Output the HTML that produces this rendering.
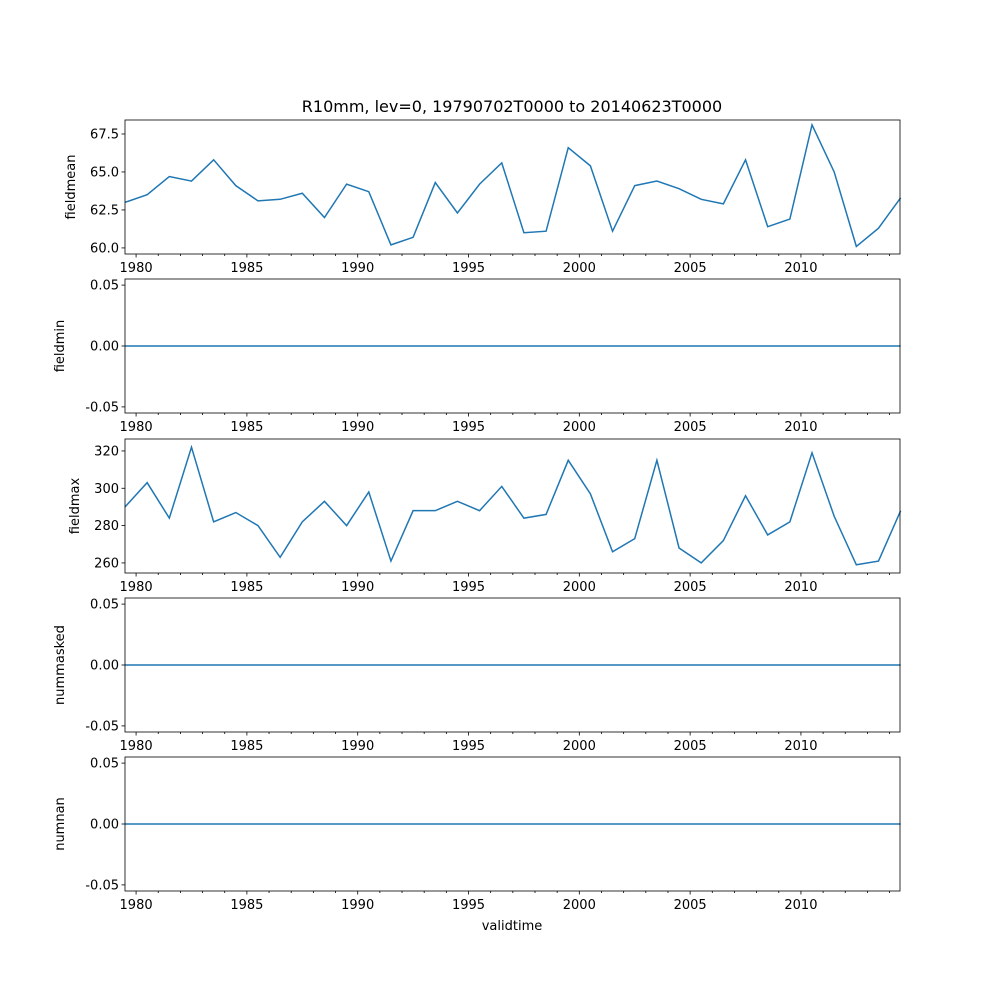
<!DOCTYPE html>
<html><head><meta charset="utf-8"><style>body{margin:0;background:#fff}svg text{font-family:"DejaVu Sans","Liberation Sans",sans-serif}</style></head>
<body>
<svg id="fig" width="1000" height="1000" xmlns="http://www.w3.org/2000/svg"></svg>
<script>
const years = [1979,1980,1981,1982,1983,1984,1985,1986,1987,1988,1989,1990,1991,1992,1993,1994,1995,1996,1997,1998,1999,2000,2001,2002,2003,2004,2005,2006,2007,2008,2009,2010,2011,2012,2013,2014];
const fieldmean = [63.0,63.5,64.7,64.4,65.8,64.1,63.1,63.2,63.6,62.0,64.2,63.7,60.2,60.7,64.3,62.3,64.2,65.6,61.0,61.1,66.6,65.4,61.1,64.1,64.4,63.9,63.2,62.9,65.8,61.4,61.9,68.1,65.0,60.1,61.3,63.3];
const fieldmax = [290,303,284,322,282,287,280,263,282,293,280,298,261,288,288,293,288,301,284,286,315,297,266,273,315,268,260,272,296,275,282,319,285,259,261,288];
const zeros = years.map(()=>0);
const meanTicks = [60.0,62.5,65.0,67.5];
const maxTicks = [260,280,300,320];
const zeroTicks = [-0.05,0.00,0.05];
const xTickYears = [1980,1985,1990,1995,2000,2005,2010];

const svg=document.getElementById('fig');const NS='http://www.w3.org/2000/svg';
function mk(t,a,p){const e=document.createElementNS(NS,t);for(const k in a)e.setAttribute(k,a[k]);(p||svg).appendChild(e);return e;}
const L=125,R=900,x0=1979.5,x1=2014.47;
const xs=v=>L+(v-x0)/(x1-x0)*(R-L);
const panels=[
 {name:'fieldmean',top:120,bot:254,lo:59.6,hi:68.42,data:fieldmean,ticks:meanTicks,fmt:v=>v.toFixed(1)},
 {name:'fieldmin',top:279,bot:413,lo:-0.055,hi:0.055,data:zeros,ticks:zeroTicks,fmt:v=>v.toFixed(2)},
 {name:'fieldmax',top:439,bot:573,lo:254.6,hi:326.4,data:fieldmax,ticks:maxTicks,fmt:v=>String(v)},
 {name:'nummasked',top:598,bot:732,lo:-0.055,hi:0.055,data:zeros,ticks:zeroTicks,fmt:v=>v.toFixed(2)},
 {name:'numnan',top:757,bot:891,lo:-0.055,hi:0.055,data:zeros,ticks:zeroTicks,fmt:v=>v.toFixed(2)}];
panels.forEach(p=>{
 const g=mk('g',{});
 
 
 const ys=v=>p.bot-(v-p.lo)/(p.hi-p.lo)*(p.bot-p.top);
 const pts=p.data.map((v,i)=>xs(years[i]+0.5).toFixed(2)+','+ys(v).toFixed(2)).join(' ');
 const ln=mk('polyline',{points:pts,fill:'none',stroke:'#1f77b4','stroke-width':1.5},g);
 
 
 const fr=mk('rect',{x:L,y:p.top,width:R-L,height:p.bot-p.top,fill:'none',stroke:'#000','stroke-width':0.8},g);
 
 
 p.ticks.forEach(t=>{const y=ys(t);mk('line',{x1:L-3.5,x2:L,y1:y,y2:y,stroke:'#000','stroke-width':0.8},g);
  const tx=mk('text',{x:L-6,y:y+4.5,'text-anchor':'end','font-size':13},g);tx.textContent=p.fmt(t);
  
  });
 for(let yr=1980;yr<=2014;yr++){const x=xs(yr);const maj=yr%5===0;
  mk('line',{x1:x,x2:x,y1:p.bot,y2:p.bot+(maj?3.5:2),stroke:'#000','stroke-width':0.8},g);}
 xTickYears.forEach(yr=>{const tx=mk('text',{x:xs(yr),y:p.bot+18,'text-anchor':'middle','font-size':13},g);tx.textContent=yr;
  
  });
 const yl=mk('text',{x:0,y:0,'text-anchor':'middle','font-size':13,transform:`translate(${p.name==='fieldmean'?75:(p.name==='fieldmax'?79:64)},${(p.top+p.bot)/2}) rotate(-90)`},g);
 yl.textContent=p.name;
 
 
});
const ti=mk('text',{x:512,y:112,'text-anchor':'middle','font-size':16});ti.textContent='R10mm, lev=0, 19790702T0000 to 20140623T0000';


const xl=mk('text',{x:512,y:930,'text-anchor':'middle','font-size':13});xl.textContent='validtime';


</script>
</body></html>
